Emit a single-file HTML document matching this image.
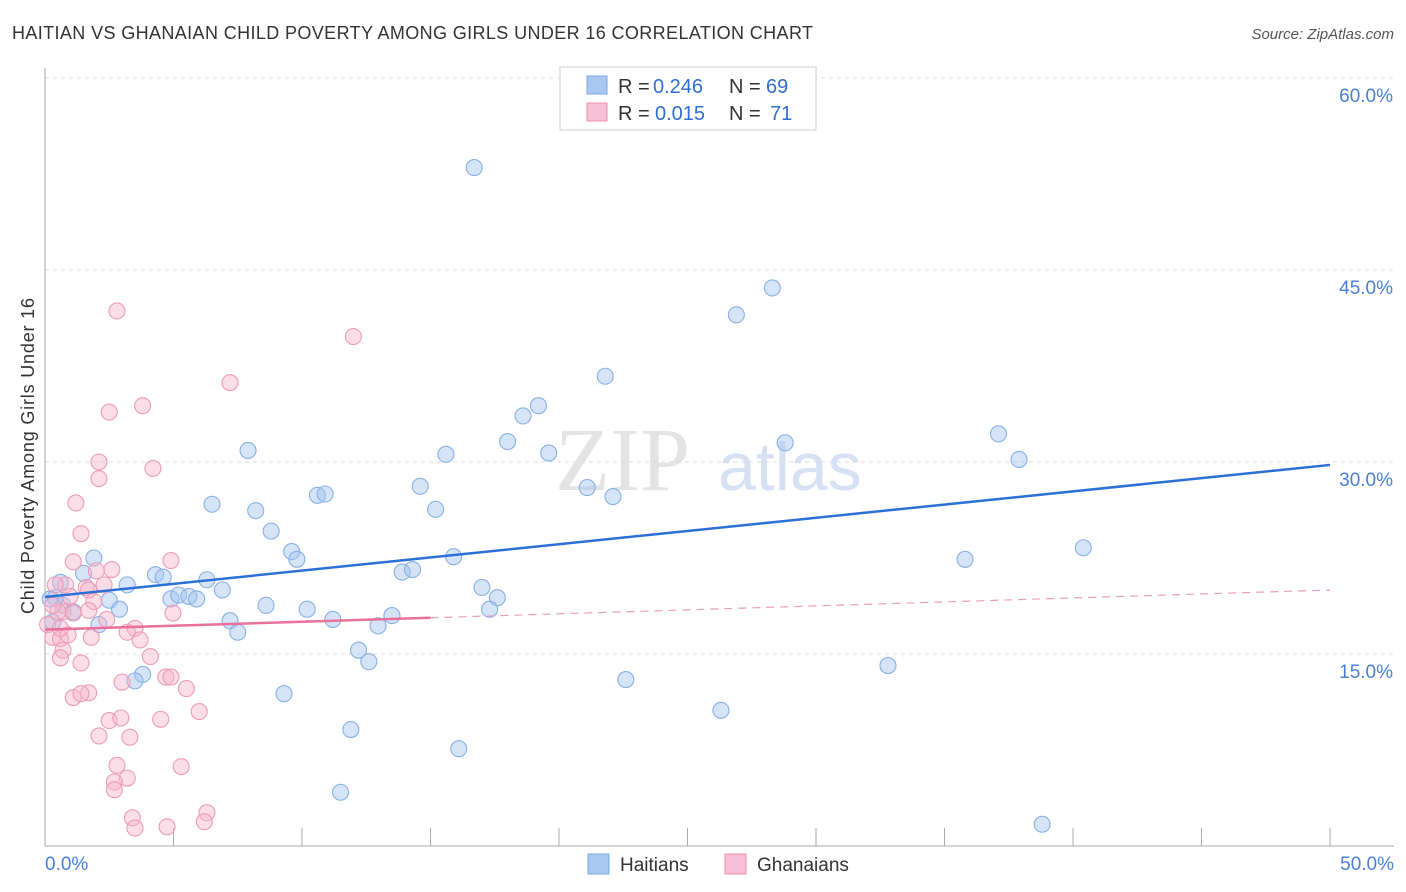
<!DOCTYPE html>
<html><head><meta charset="utf-8"><style>
body{margin:0;background:#fff;font-family:"Liberation Sans",sans-serif}
svg{display:block}
</style></head><body>
<svg id="c" width="1406" height="892">
<text x="12" y="39" font-size="18" fill="#333" textLength="801">HAITIAN VS GHANAIAN CHILD POVERTY AMONG GIRLS UNDER 16 CORRELATION CHART</text>
<text x="1394" y="39" font-size="15" fill="#555" font-style="italic" text-anchor="end">Source: ZipAtlas.com</text>
<text x="34" y="456" font-size="18" fill="#333" text-anchor="middle" textLength="316" transform="rotate(-90 34 456)">Child Poverty Among Girls Under 16</text>
<text x="555" y="490" font-size="90" fill="#e4e4e4" font-family="Liberation Serif">ZIP</text>
<text x="718" y="490" font-size="68" fill="#d6e2f4">atlas</text>
<g id="grid"></g><g id="pts"></g><g id="lines"></g>
<g>
<rect x="560" y="67" width="256" height="63" fill="#fff" stroke="#ccc"/>
<rect x="587" y="76" width="20" height="18" fill="#a8c8f2" stroke="#7aa6e0"/>
<rect x="587" y="103" width="20" height="18" fill="#f8c0d4" stroke="#e890b0"/>
<text y="93" font-size="20" fill="#333"><tspan x="618">R =</tspan><tspan x="653" fill="#2f6fd0">0.246</tspan><tspan x="729">N =</tspan><tspan x="766" fill="#2f6fd0">69</tspan></text>
<text y="120" font-size="20" fill="#333"><tspan x="618">R =</tspan><tspan x="655" fill="#2f6fd0">0.015</tspan><tspan x="729">N =</tspan><tspan x="770" fill="#2f6fd0">71</tspan></text>
</g>
<g>
<rect x="588" y="854" width="21" height="20" fill="#a8c8f2" stroke="#7aa6e0"/>
<text x="620" y="871" font-size="19" fill="#333">Haitians</text>
<rect x="725" y="854" width="21" height="20" fill="#f8c0d4" stroke="#e890b0"/>
<text x="757" y="871" font-size="19" fill="#333">Ghanaians</text>
</g>
</svg>
<script>
const yTicks=[15,30,45,60];
const xTickVals=[0,5,10,15,20,25,30,35,40,45,50];
const haitiansX=[16.7,28.3,26.9,21.8,19.2,18.6,18.0,19.6,28.8,15.6,7.9,37.1,37.9,21.1,22.1,14.6,15.2,10.6,10.9,6.5,8.2,8.8,9.6,9.8,15.9,13.9,14.3,40.4,35.8,1.9,1.5,3.2,4.3,4.6,6.3,6.9,4.9,5.2,5.6,5.9,8.6,10.2,17.0,17.6,17.3,13.5,12.960,11.2,7.2,7.5,2.9,2.5,0.7,0.4,0.6,0.2,0.3,2.1,1.1,12.2,12.6,3.8,3.5,9.3,22.6,32.8,26.3,11.9,16.1,11.5,38.8];
const haitiansY=[53.0,43.6,41.5,36.7,34.4,33.6,31.6,30.7,31.5,30.6,30.9,32.2,30.2,28.0,27.3,28.1,26.3,27.4,27.5,26.7,26.2,24.6,23.0,22.4,22.6,21.4,21.6,23.3,22.4,22.5,21.3,20.4,21.2,21.0,20.8,20.0,19.3,19.6,19.5,19.3,18.8,18.5,20.2,19.4,18.5,18.0,17.2,17.7,17.6,16.7,18.5,19.2,18.8,19.4,20.6,19.3,17.5,17.3,18.3,15.3,14.4,13.4,12.9,11.9,13.0,14.1,10.6,9.1,7.6,4.2,1.7];
const ghanaiansX=[2.8,12.0,7.2,3.8,2.5,2.1,4.2,2.1,1.2,1.4,1.1,4.9,2.6,2.0,0.8,0.4,1.6,2.3,1.9,0.975,1.7,0.7,1.1,2.4,3.5,0.1,0.3,0.6,0.9,3.7,1.8,0.7,0.6,1.4,4.1,4.7,4.9,3.0,5.5,1.7,1.1,1.4,2.5,2.95,4.5,6.0,2.1,3.3,5.3,2.8,3.2,2.7,2.7,3.4,3.5,4.75,6.3,6.2,4.98,3.2,0.5,0.3,0.6,1.7];
const ghanaiansY=[41.8,39.8,36.2,34.4,33.9,30.0,29.5,28.7,26.8,24.4,22.2,22.3,21.6,21.5,20.4,20.4,20.2,20.4,19.1,19.5,18.4,18.3,18.2,17.7,17.0,17.3,16.3,16.2,16.5,16.1,16.3,15.3,14.7,14.3,14.8,13.2,13.2,12.8,12.3,11.97,11.6,11.9,9.8,10.0,9.9,10.5,8.6,8.5,6.2,6.3,5.3,5.0,4.4,2.2,1.4,1.5,2.6,1.9,18.2,16.7,18.3,18.8,17.0,20.0];
const blueFit=[19.45,29.77];
const pinkFit=[16.9,20.0];
const X=v=>45+v*25.7, Y=v=>846-v*12.8;
const NS='http://www.w3.org/2000/svg';
function mk(tag,a,parent){const e=document.createElementNS(NS,tag);for(const k in a)e.setAttribute(k,a[k]);document.getElementById(parent).appendChild(e);return e;}
yTicks.forEach(t=>{
 const l=mk('line',{x1:45,x2:1394,y1:Y(t),y2:Y(t),stroke:'#ddd','stroke-dasharray':'4,4'},'grid');
 
 
 const tx=mk('text',{x:1393,y:Y(t)+24,'font-size':19,fill:'#4a80d8','text-anchor':'end'},'grid');
 tx.textContent=t.toFixed(1)+'%';
 
 
});
const ax=mk('line',{x1:45,x2:45,y1:68,y2:846,stroke:'#aaa'},'grid');


const bx=mk('line',{x1:45,x2:1394,y1:846,y2:846,stroke:'#aaa'},'grid');


xTickVals.forEach(t=>{
 const l=mk('line',{x1:X(t),x2:X(t),y1:828,y2:846,stroke:'#aaa'},'grid');
 
 
});
[[0,'start'],[50,'end']].forEach(([t,a])=>{
 const tx=mk('text',{x:t?1394:45,y:870,'font-size':19,fill:'#4a80d8','text-anchor':a},'grid');
 tx.textContent=t.toFixed(1)+'%';
 
 
});
haitiansX.forEach((v,i)=>{
 const c=mk('circle',{cx:X(v),cy:Y(haitiansY[i]),r:8,fill:'rgba(164,196,240,0.45)',stroke:'#88b0e4','stroke-width':1.1},'pts');
 
 
});
ghanaiansX.forEach((v,i)=>{
 const c=mk('circle',{cx:X(v),cy:Y(ghanaiansY[i]),r:8,fill:'rgba(246,182,204,0.45)',stroke:'#eb9cb8','stroke-width':1.1},'pts');
 
 
});
const bl=mk('line',{x1:X(0),y1:Y(blueFit[0]),x2:X(50),y2:Y(blueFit[1]),stroke:'#2c6fd6','stroke-width':2.5},'lines');


const pAt=v=>pinkFit[0]+(pinkFit[1]-pinkFit[0])*v/50;
const pl=mk('line',{x1:X(0),y1:Y(pAt(0)),x2:X(15),y2:Y(pAt(15)),stroke:'#e8709a','stroke-width':2.5},'lines');


const pd=mk('line',{x1:X(15),y1:Y(pAt(15)),x2:X(50),y2:Y(pAt(50)),stroke:'#e8a0b8','stroke-width':1.2,'stroke-dasharray':'8,6'},'lines');


</script>
</body></html>
